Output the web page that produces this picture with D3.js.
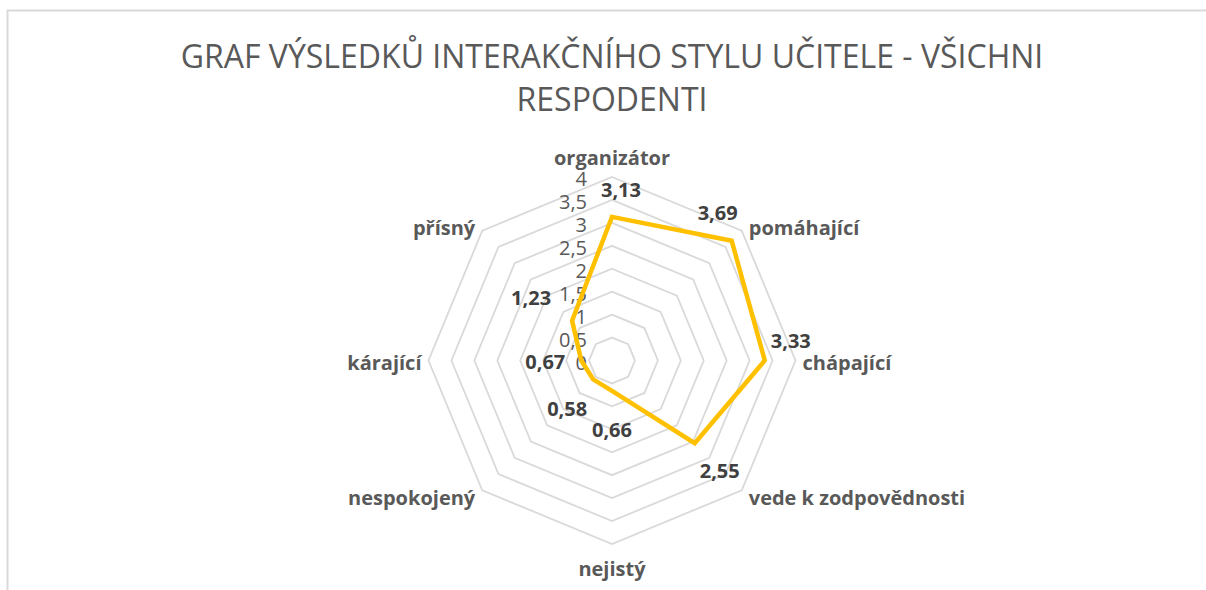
<!DOCTYPE html>
<html><head><meta charset="utf-8">
<script src="https://cdn.jsdelivr.net/npm/d3@7"></script>
<style>
html,body{margin:0;padding:0;background:#fff;}
svg{display:block;}
</style></head>
<body>
<svg id="chart" width="1206" height="590"></svg>
<script>
// ---- data ----
const categories = ["organizátor","pomáhající","chápající","vede k zodpovědnosti","nejistý","nespokojený","kárající","přísný"];
const values = [3.13, 3.69, 3.33, 2.55, 0.66, 0.58, 0.67, 1.23];
const valueLabels = ["3,13","3,69","3,33","2,55","0,66","0,58","0,67","1,23"];
const tickValues = [0,0.5,1,1.5,2,2.5,3,3.5,4];
const tickLabels = ["0","0,5","1","1,5","2","2,5","3","3,5","4"];
const titleLines = ["GRAF VÝSLEDKŮ INTERAKČNÍHO STYLU UČITELE - VŠICHNI","RESPODENTI"];

// ---- layout (styles / positions, separate from data) ----
const cx = 612, cy = 360.5, R = 183.5;
const dataLabelOffsets = [[9,-27],[-14,-28],[26,-20],[25,27],[0,39],[-26,29],[-36,1],[-41,-23]];
const font = "'Open Sans', 'Noto Sans', sans-serif";

const svg = d3.select("#chart");

// frame
svg.append("rect").attr("x",7.5).attr("y",10.5).attr("width",1300).attr("height",700)
  .attr("fill","none").attr("stroke","#d9d9d9").attr("stroke-width",2);

// title
svg.append("g").selectAll("text").data(titleLines).join("text")
  .attr("x",cx).attr("y",(d,i)=>68 + i*43)
  .attr("text-anchor","middle")
  .attr("font-family",font).attr("font-size",32).attr("fill","#595959")
  .text(d=>d);

const r = d3.scaleLinear().domain([0,4]).range([0,R]);
const angle = d3.scalePoint().domain(d3.range(categories.length)).range([0, 2*Math.PI*(categories.length-1)/categories.length]);
const pt = (i,v)=>[cx + Math.sin(angle(i))*r(v), cy - Math.cos(angle(i))*r(v)];

const g = svg.append("g");
// grid rings
const ringLine = d3.line();
tickValues.filter(t=>t>0).forEach(t=>{
  const pts = categories.map((c,i)=>pt(i,t));
  g.append("path").attr("d", ringLine(pts)+"Z")
    .attr("fill","none").attr("stroke","#d9d9d9").attr("stroke-width",1.8);
});

// tick labels
g.append("g").selectAll("text").data(tickValues).join("text")
  .attr("x", cx - 25).attr("y", d=>cy - r(d) + 1.5)
  .attr("text-anchor","end").attr("dominant-baseline","central")
  .attr("font-family",font).attr("font-size",20).attr("fill","#595959")
  .text((d,i)=>tickLabels[i]);

// series line
const linePts = values.map((v,i)=>pt(i,v));
g.append("path").attr("d", d3.line()(linePts)+"Z")
  .attr("fill","none").attr("stroke","#FFC000").attr("stroke-width",4.5)
  .attr("stroke-linejoin","miter");

// category labels
g.append("g").selectAll("text").data(categories).join("text")
  .each(function(d,i){
    const [x,y] = pt(i,4);
    const s = Math.sin(angle(i)), c = Math.cos(angle(i));
    const vertical = Math.abs(s) < 0.01;
    const k = vertical ? 22 : 7;
    d3.select(this)
      .attr("x", vertical ? x : x + Math.sign(s)*7)
      .attr("y", y - c*k + 2)
      .attr("text-anchor", vertical ? "middle" : (s>0 ? "start" : "end"));
  })
  .attr("dominant-baseline","central")
  .attr("font-family",font).attr("font-weight","bold").attr("font-size",20).attr("fill","#595959")
  .text(d=>d);

// data labels
g.append("g").selectAll("text").data(values).join("text")
  .attr("x",(d,i)=>pt(i,d)[0] + dataLabelOffsets[i][0])
  .attr("y",(d,i)=>pt(i,d)[1] + dataLabelOffsets[i][1])
  .attr("text-anchor","middle").attr("dominant-baseline","central")
  .attr("font-family",font).attr("font-weight","bold").attr("font-size",20).attr("fill","#404040")
  .text((d,i)=>valueLabels[i]);
</script>
</body></html>
